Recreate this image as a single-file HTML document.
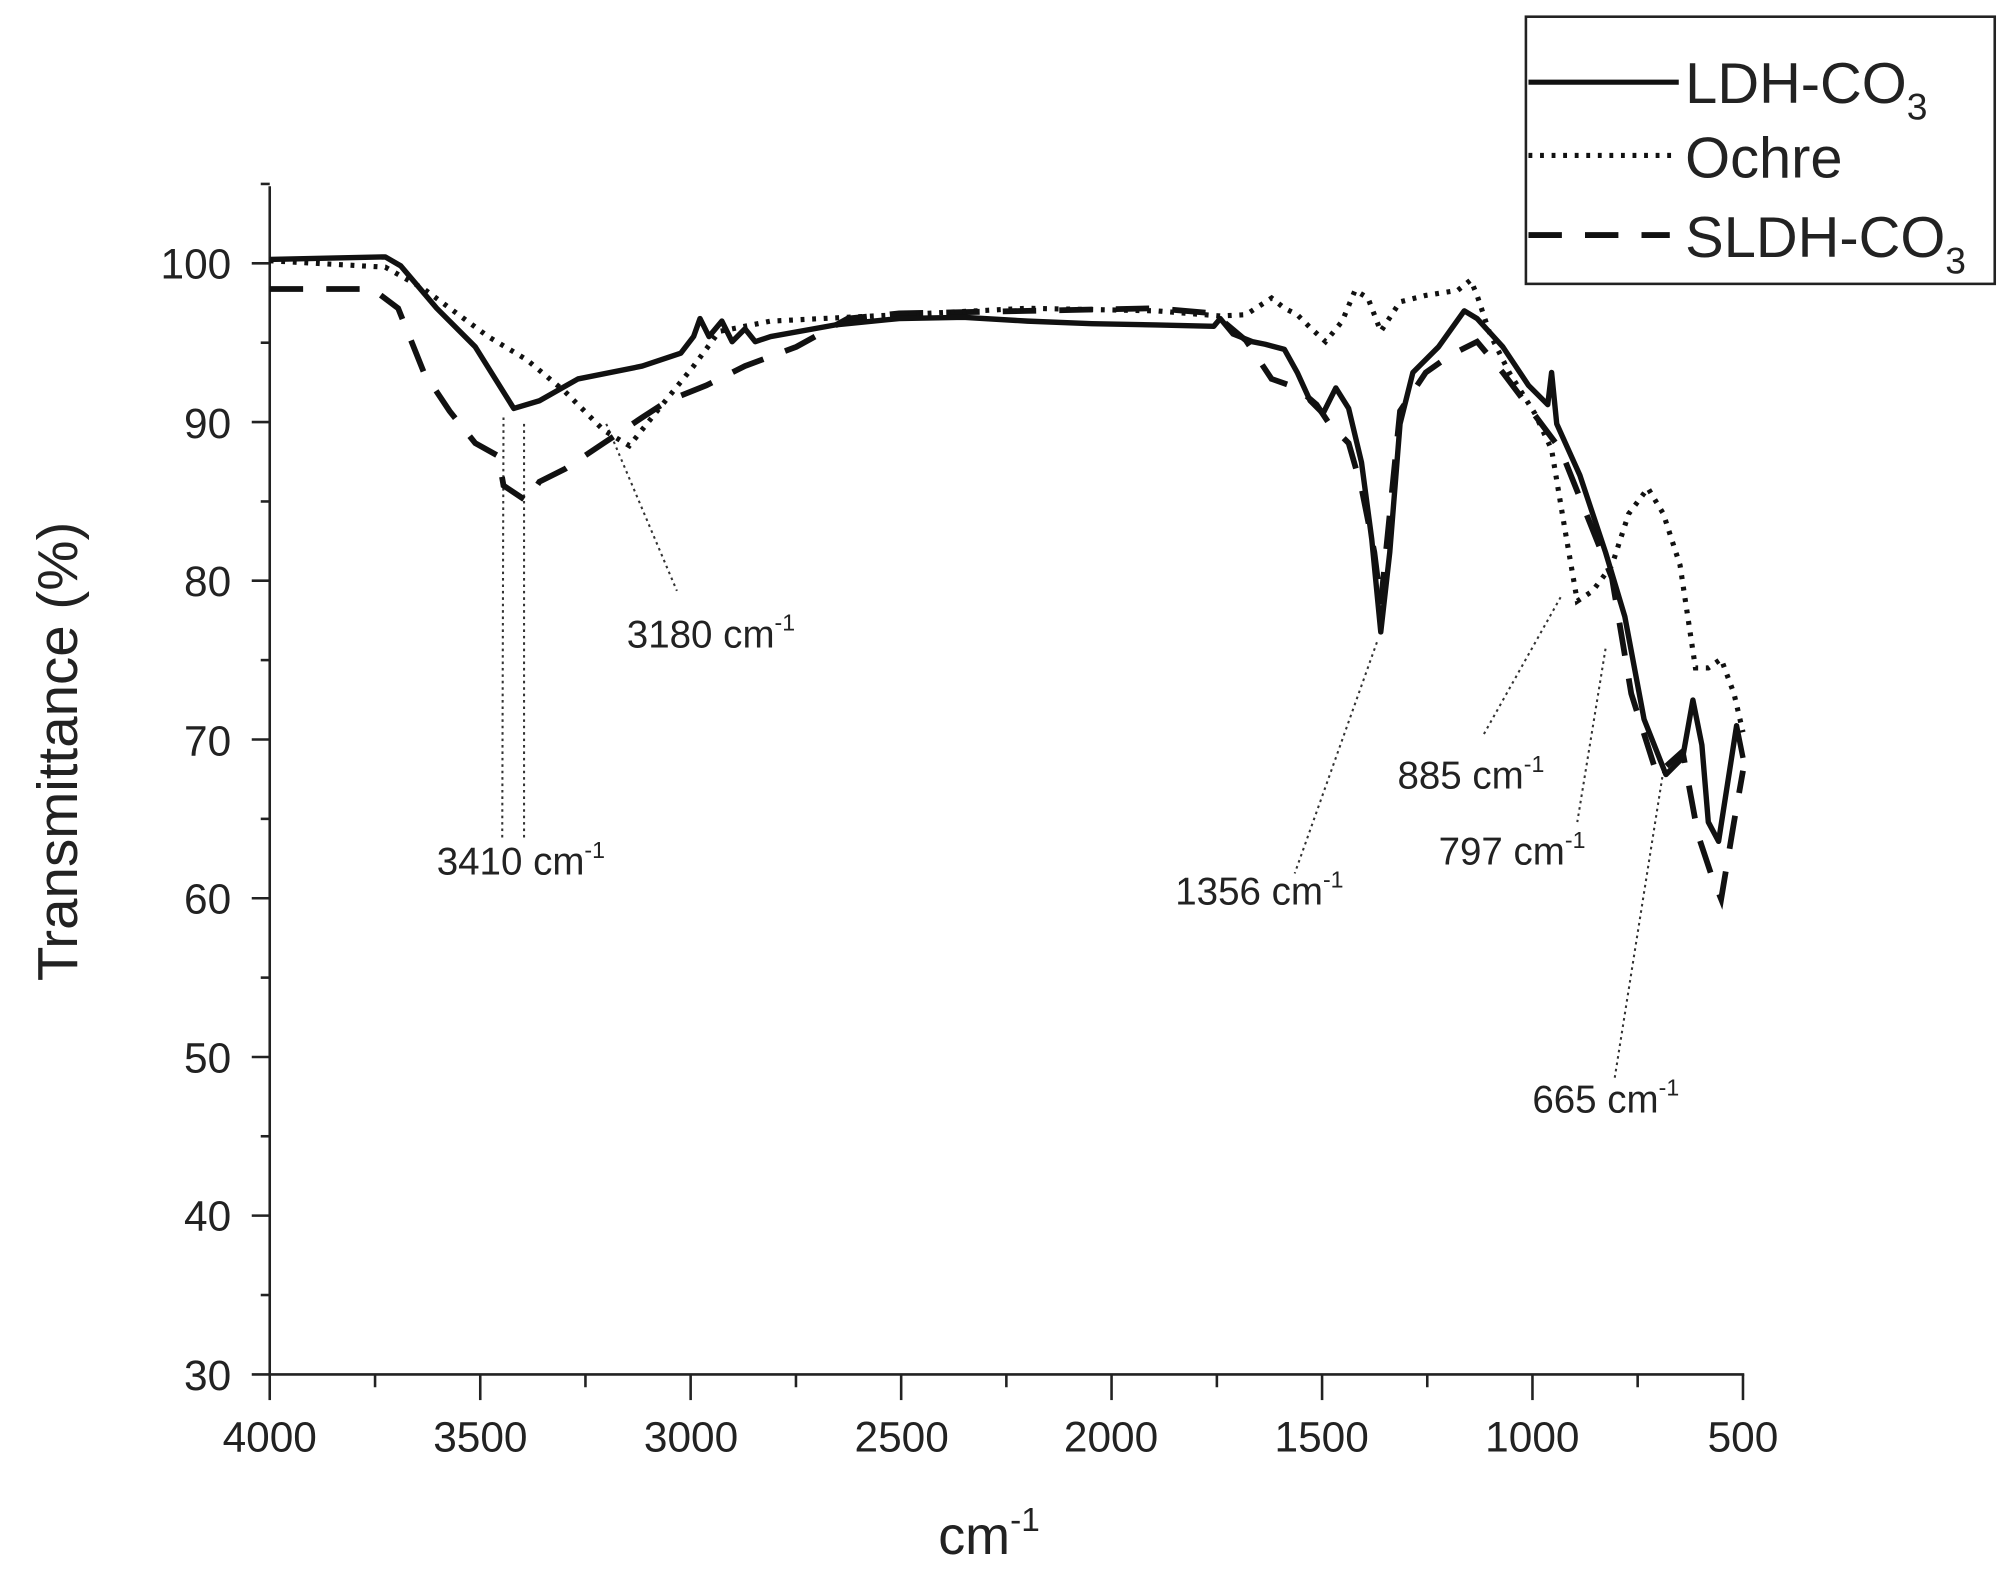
<!DOCTYPE html>
<html><head><style>
html,body{margin:0;padding:0;background:#fff;}
svg{display:block;}
text{font-family:"Liberation Sans",Arial,sans-serif;fill:#222;}
</style></head><body>
<svg width="2014" height="1578" viewBox="0 0 1568 1228.5" preserveAspectRatio="none" xmlns="http://www.w3.org/2000/svg">
<rect width="1568" height="1228.5" fill="#fff"/>
<g stroke="#222" stroke-width="2" fill="none">
<line x1="210" y1="145" x2="210" y2="1071"/>
<line x1="209" y1="1070" x2="1358" y2="1070"/>
<line x1="196" y1="205" x2="210" y2="205"/><line x1="196" y1="328.6" x2="210" y2="328.6"/>
<line x1="196" y1="452.1" x2="210" y2="452.1"/><line x1="196" y1="575.7" x2="210" y2="575.7"/>
<line x1="196" y1="699.3" x2="210" y2="699.3"/><line x1="196" y1="822.9" x2="210" y2="822.9"/>
<line x1="196" y1="946.4" x2="210" y2="946.4"/><line x1="196" y1="1070" x2="210" y2="1070"/>
<line x1="203" y1="143.2" x2="210" y2="143.2"/><line x1="203" y1="266.8" x2="210" y2="266.8"/>
<line x1="203" y1="390.4" x2="210" y2="390.4"/><line x1="203" y1="513.9" x2="210" y2="513.9"/>
<line x1="203" y1="637.5" x2="210" y2="637.5"/><line x1="203" y1="761.1" x2="210" y2="761.1"/>
<line x1="203" y1="884.6" x2="210" y2="884.6"/><line x1="203" y1="1008.2" x2="210" y2="1008.2"/>
<line x1="210" y1="1070" x2="210" y2="1090"/><line x1="373.9" y1="1070" x2="373.9" y2="1090"/>
<line x1="537.7" y1="1070" x2="537.7" y2="1090"/><line x1="701.6" y1="1070" x2="701.6" y2="1090"/>
<line x1="865.4" y1="1070" x2="865.4" y2="1090"/><line x1="1029.3" y1="1070" x2="1029.3" y2="1090"/>
<line x1="1193.1" y1="1070" x2="1193.1" y2="1090"/><line x1="1357" y1="1070" x2="1357" y2="1090"/>
<line x1="292" y1="1070" x2="292" y2="1080"/><line x1="455.8" y1="1070" x2="455.8" y2="1080"/>
<line x1="619.7" y1="1070" x2="619.7" y2="1080"/><line x1="783.5" y1="1070" x2="783.5" y2="1080"/>
<line x1="947.4" y1="1070" x2="947.4" y2="1080"/><line x1="1111.2" y1="1070" x2="1111.2" y2="1080"/>
<line x1="1275" y1="1070" x2="1275" y2="1080"/>
</g>
<g font-size="33" text-anchor="end">
<text x="180" y="217">100</text><text x="180" y="341">90</text><text x="180" y="464">80</text>
<text x="180" y="588">70</text><text x="180" y="711">60</text><text x="180" y="835">50</text>
<text x="180" y="958">40</text><text x="180" y="1082">30</text>
</g>
<g font-size="33" text-anchor="middle">
<text x="210" y="1130">4000</text><text x="374" y="1130">3500</text><text x="538" y="1130">3000</text>
<text x="702" y="1130">2500</text><text x="865" y="1130">2000</text><text x="1029" y="1130">1500</text>
<text x="1193" y="1130">1000</text><text x="1357" y="1130">500</text>
</g>
<text x="770" y="1210" font-size="42" text-anchor="middle">cm<tspan font-size="26" dy="-18">-1</tspan></text>
<text transform="translate(60,585) rotate(-90)" font-size="44" text-anchor="middle">Transmittance (%)</text>

<g stroke="#333" stroke-width="1.6" stroke-dasharray="2,3" fill="none">
<line x1="392" y1="325" x2="391" y2="655"/><line x1="408" y1="330" x2="408" y2="655"/>
<line x1="472" y1="330" x2="527" y2="460"/>
<line x1="1072" y1="500" x2="1008" y2="680"/>
<line x1="1215" y1="465" x2="1155" y2="572"/>
<line x1="1250" y1="505" x2="1228" y2="640"/>
<line x1="1295" y1="600" x2="1257" y2="840"/>
</g>
<g font-size="30" fill="#333">
<text x="340" y="681">3410 cm<tspan font-size="18" dy="-13">-1</tspan></text>
<text x="488" y="504">3180 cm<tspan font-size="18" dy="-13">-1</tspan></text>
<text x="915" y="704">1356 cm<tspan font-size="18" dy="-13">-1</tspan></text>
<text x="1088" y="614">885 cm<tspan font-size="18" dy="-13">-1</tspan></text>
<text x="1120" y="673">797 cm<tspan font-size="18" dy="-13">-1</tspan></text>
<text x="1193" y="866">665 cm<tspan font-size="18" dy="-13">-1</tspan></text>
</g>

<polyline fill="none" stroke="#111" stroke-width="4.5" stroke-dasharray="26,18" points="210,225 290,225 310,240 330,290 350,320 370,345 388,355 392,378 410,390 420,375 440,365 470,345 500,325 520,312 550,300 580,285 620,270 660,248 700,244 800,242 900,240 945,244 970,265 990,295 1010,302 1025,315 1035,330 1050,345 1060,380 1070,430 1075,470 1080,420 1090,320 1110,290 1130,276 1150,266 1170,290 1200,330 1215,350 1235,400 1255,450 1270,540 1290,603 1310,585 1322,650 1332,680 1340,700 1350,640 1357,600"/>
<polyline fill="none" stroke="#111" stroke-width="4" stroke-dasharray="3,6" points="210,203 300,208 330,225 380,262 410,280 440,305 470,335 490,347 510,322 540,285 560,258 600,250 700,245 800,240 900,242 950,246 970,245 990,232 1000,240 1010,245 1020,255 1032,266 1045,250 1055,226 1065,232 1075,258 1090,235 1110,230 1135,226 1145,218 1150,230 1160,260 1175,290 1195,322 1208,350 1218,410 1228,468 1240,460 1255,440 1268,400 1283,380 1295,400 1308,440 1320,520 1330,520 1340,513 1350,540 1357,570"/>
<polyline fill="none" stroke="#111" stroke-width="4.2" stroke-linejoin="round" points="210,202 300,200 312,207 340,240 370,270 400,318 420,312 450,295 500,285 530,275 540,262 545,248 552,262 562,250 570,266 580,256 588,266 600,262 650,253 700,248 750,247 800,250 850,252 900,253 945,254 950,248 960,260 975,266 985,268 1000,272 1010,290 1020,312 1030,322 1040,302 1050,318 1060,360 1068,420 1075,492 1082,430 1090,330 1100,290 1120,270 1140,242 1150,248 1170,270 1190,300 1205,315 1208,290 1212,330 1230,370 1250,430 1265,480 1280,560 1297,603 1310,590 1318,545 1325,580 1330,640 1338,655 1345,610 1352,565 1357,590"/>

<rect x="1188" y="13" width="365" height="208" fill="#fff" stroke="#222" stroke-width="2"/>
<line x1="1190" y1="64" x2="1307" y2="64" stroke="#111" stroke-width="4"/>
<line x1="1190" y1="121" x2="1305" y2="121" stroke="#111" stroke-width="4" stroke-dasharray="3,6"/>
<line x1="1190" y1="183" x2="1300" y2="183" stroke="#111" stroke-width="4.5" stroke-dasharray="26,18"/>
<g font-size="45">
<text x="1312" y="80">LDH-CO<tspan font-size="29" dy="13">3</tspan></text>
<text x="1312" y="138">Ochre</text>
<text x="1312" y="200">SLDH-CO<tspan font-size="29" dy="13">3</tspan></text>
</g>
</svg>
</body></html>
